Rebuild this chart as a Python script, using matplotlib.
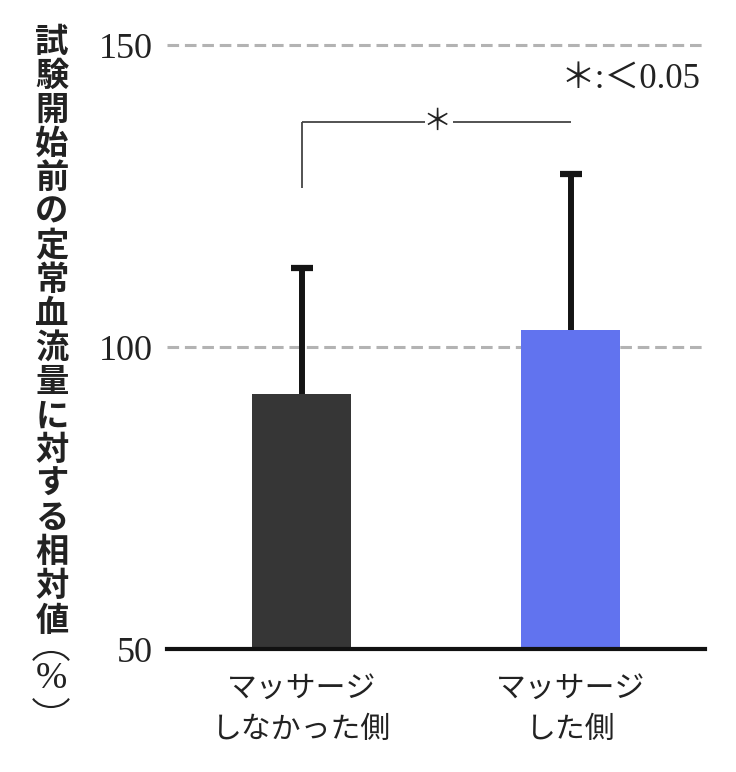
import matplotlib
matplotlib.use("Agg")
import matplotlib.pyplot as plt
from matplotlib.patches import Arc

categories = ["マッサージ\nしなかった側", "マッサージ\nした側"]
values = [92.2, 102.8]
err_upper = [20.9, 25.8]
bar_colors = ["#363636", "#6173ef"]
yticks = [50, 100, 150]
ylabel_chars = list("試験開始前の定常血流量に対する相対値")
ylabel_unit = "%"
sig_label = "＊"
note_text = "＊:＜0.05"

W, H = 736, 772
fig = plt.figure(figsize=(W / 100, H / 100), dpi=100)
ax = fig.add_axes([167 / W, (H - 649) / H, (705 - 167) / W, (649 - 45) / H])

x = [0, 1]
ax.set_xlim(-0.5, 1.5)
ax.set_ylim(50, 150)

# grid lines
for yv in [100, 150]:
    ln, = ax.plot([-0.5, 1.5], [yv, yv], color="#b3b3b3", lw=2.2, zorder=0, clip_on=False)
    ln.set_dashes([3.8, 1.9])

ax.bar(x, [v - 50 for v in values], bottom=50, width=0.37, color=bar_colors, zorder=2)
eb = ax.errorbar(x, values, yerr=[[0, 0], err_upper], fmt="none", ecolor="#141414",
                 elinewidth=4.3, capsize=8, capthick=4.5, zorder=3)
eb[1][0].set_visible(False)  # hide lower caps

# significance bracket
yb = 137.3
ax.plot([0, 0], [126.3, yb], color="#444444", lw=1.3, solid_capstyle="butt")
ax.plot([0, 0.459], [yb, yb], color="#444444", lw=1.3, solid_capstyle="butt")
ax.plot([0.563, 1.0], [yb, yb], color="#444444", lw=1.3, solid_capstyle="butt")
ax.text(0.504, yb, sig_label, ha="center", va="center", fontsize=21,
        family=["Noto Sans CJK JP"], color="#222222")

for s in ["left", "right", "top"]:
    ax.spines[s].set_visible(False)
ax.spines["bottom"].set_linewidth(3)
ax.spines["bottom"].set_color("#111111")

ax.set_yticks(yticks)
ax.set_yticklabels([str(t) for t in yticks], family="Liberation Serif", fontsize=26, color="#222222")
ax.tick_params(axis="y", length=0, pad=10)
ax.set_xticks(x)
ax.set_xticklabels(categories, family="Noto Sans CJK JP", fontsize=21.5, color="#222222",
                   linespacing=1.45)
ax.tick_params(axis="x", length=0, pad=17)

fig.text(700 / W, 1 - 80 / H, note_text, ha="right", va="center", fontsize=25,
         family=["Liberation Serif", "Noto Sans CJK JP"], color="#222222")

# vertical y label
for i, ch in enumerate(ylabel_chars):
    fig.text(52 / W, 1 - (42 + 34.06 * i) / H, ch, ha="center", va="center",
             fontsize=24, family="Noto Sans CJK JP", weight="bold", color="#222222")
fig.text(51 / W, 1 - 679 / H, ylabel_unit, ha="center", va="center", fontsize=27,
         family="Liberation Serif", color="#222222")
# vertical-form parentheses around the unit
fig.add_artist(Arc((51 / W, 1 - 668 / H), 41 / W, 32 / H, theta1=22, theta2=158,
                   transform=fig.transFigure, color="#222222", lw=1.5))
fig.add_artist(Arc((51 / W, 1 - 691 / H), 41 / W, 32 / H, theta1=202, theta2=338,
                   transform=fig.transFigure, color="#222222", lw=1.5))

fig.savefig("out.png", dpi=100)
